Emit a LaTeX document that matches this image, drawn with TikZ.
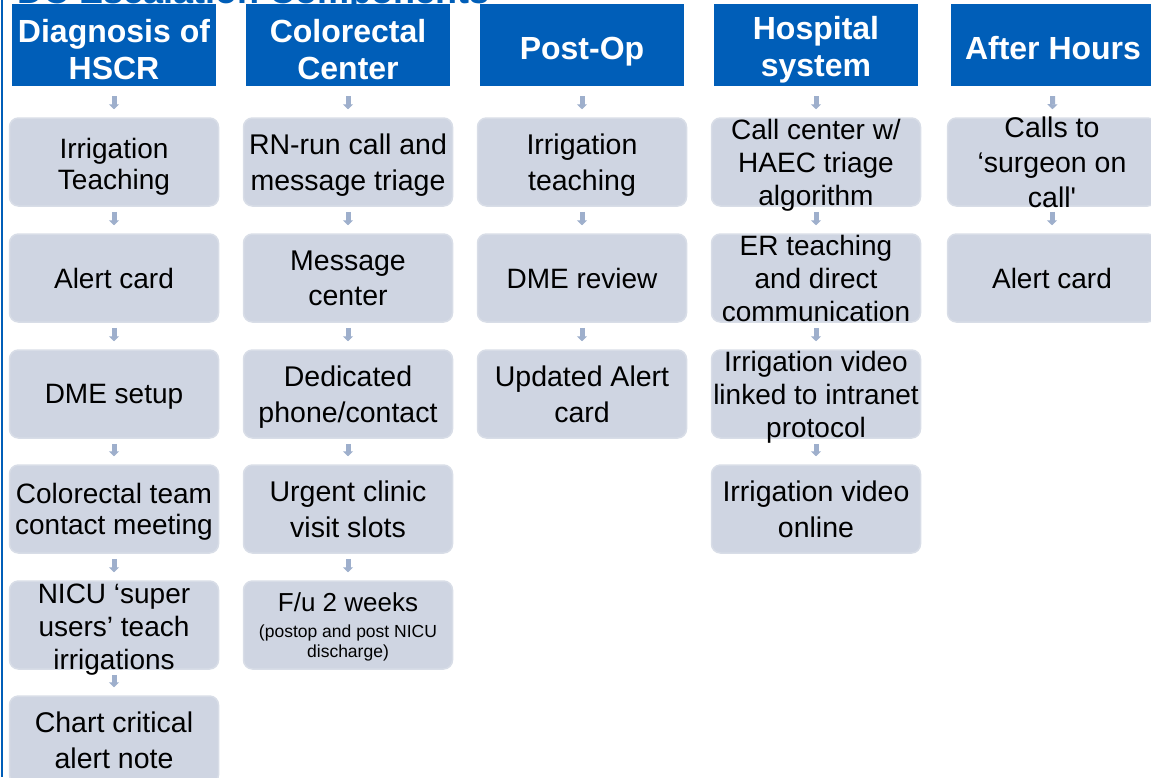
\documentclass[tikz,border=0pt]{standalone}
\usepackage{fontspec}
\setmainfont{Liberation Sans}
\usetikzlibrary{arrows.meta}

\definecolor{headblue}{RGB}{0,94,184}
\definecolor{cellgray}{RGB}{207,213,226}
\definecolor{celledge}{RGB}{216,221,231}
\definecolor{flowgray}{RGB}{158,175,204}

% A blue header box with its text on top
\newcommand{\headbox}[5]{%
	\node [head] (#1) at (#2, #3) {};
	\node [headtext] (#1-text) at ([yshift = -#4 pt] #1) {#5};
}

% A grey step box with its text on top
\newcommand{\cellbox}[5][]{%
	\node [cell] (#2) at (#3, #4) {};
	\node [celltext, #1] (#2-text) at (#2) {#5};
}
\newcommand{\notefont}{\fontsize{17.5}{20}\selectfont}

\begin{document}
\begin{tikzpicture}[x = 1pt, y = -1pt,
	head/.style = {fill = headblue, minimum width = 204pt, minimum height = 82pt, inner sep = 0pt},
	headtext/.style = {text = white, font = \bfseries\fontsize{32}{37}\selectfont, align = center, inner sep = 0pt},
	cell/.style = {fill = cellgray, draw = celledge, line width = 1.5pt, rounded corners = 9pt, minimum width = 209pt, minimum height = 88pt, inner sep = 0pt},
	celltext/.style = {font = \fontsize{28}{33}\selectfont, align = center, inner sep = 0pt, text depth = 0pt},
	loose/.style = {font = \fontsize{28.5}{35.5}\selectfont},
	tight/.style = {font = \fontsize{28}{31}\selectfont},
	flow/.style = {flowgray, line width = 5pt, -{Triangle[width = 10pt, length = 5pt]}, shorten <= 5pt, shorten >= 8pt},
	headflow/.style = {flow, shorten <= 10pt, shorten >= 8pt}]

\useasboundingbox (0, 0) rectangle (1151, 777);
\clip (0, 0) rectangle (1151, 777);

% Title, cut off at the top

\node [anchor = base west, text = headblue, font = \bfseries\fontsize{36}{40}\selectfont, inner sep = 0pt] (title) at (17, 3.5) {DC Escalation Components};

% Frame line on the left

\draw [headblue, line width = 2.5pt] (2, 0) -- (2, 777);

% Column headers

\headbox{diag}{114}{45}{4.5}{Diagnosis of\\HSCR}
\headbox{crc}{348}{45}{4.5}{Colorectal\\Center}
\headbox{postop}{582}{45}{7}{Post-Op}
\headbox{hosp}{816}{45}{4.5}{Hospital\\system}
\headbox{after}{1053}{45}{3}{After Hours}

% Diagnosis of HSCR

\cellbox[tight, yshift = -2pt]{diag-1}{114}{162}{Irrigation\\Teaching}
\cellbox{diag-2}{114}{278}{Alert card}
\cellbox{diag-3}{114}{394}{DME setup}
\cellbox[tight]{diag-4}{114}{509}{Colorectal team\\contact meeting}
\cellbox[yshift = -2pt]{diag-5}{114}{625}{NICU ‘super\\users’ teach\\irrigations}
\cellbox[loose]{diag-6}{114}{740}{Chart critical\\alert note}

% Colorectal Center

\cellbox[loose]{crc-1}{348}{162}{RN-run call and\\message triage}
\cellbox[loose]{crc-2}{348}{278}{Message\\center}
\cellbox[loose]{crc-3}{348}{394}{Dedicated\\phone/contact}
\cellbox[loose]{crc-4}{348}{509}{Urgent clinic\\visit slots}
\cellbox[font = \fontsize{26}{33}\selectfont]{crc-5}{348}{625}{F/u 2 weeks\\[-7pt]\notefont (postop and post NICU\\[-13pt]\notefont discharge)}

% Post-Op

\cellbox[loose]{postop-1}{582}{162}{Irrigation\\teaching}
\cellbox{postop-2}{582}{278}{DME review}
\cellbox[loose]{postop-3}{582}{394}{Updated Alert\\card}

% Hospital system

\cellbox{hosp-1}{816}{162}{Call center w/\\HAEC triage\\algorithm}
\cellbox{hosp-2}{816}{278}{ER teaching\\and direct\\communication}
\cellbox{hosp-3}{816}{394}{Irrigation video\\linked to intranet\\protocol}
\cellbox[loose]{hosp-4}{816}{509}{Irrigation video\\online}

% After Hours

\cellbox[font = \fontsize{28.5}{35}\selectfont]{after-1}{1052}{162}{Calls to\\‘surgeon on\\call\textquotesingle}
\cellbox{after-2}{1052}{278}{Alert card}

% Arrows down each column

\draw [headflow] (diag) -- (diag-1);
\draw [flow] (diag-1) -- (diag-2);
\draw [flow] (diag-2) -- (diag-3);
\draw [flow] (diag-3) -- (diag-4);
\draw [flow] (diag-4) -- (diag-5);
\draw [flow] (diag-5) -- (diag-6);

\draw [headflow] (crc) -- (crc-1);
\draw [flow] (crc-1) -- (crc-2);
\draw [flow] (crc-2) -- (crc-3);
\draw [flow] (crc-3) -- (crc-4);
\draw [flow] (crc-4) -- (crc-5);

\draw [headflow] (postop) -- (postop-1);
\draw [flow] (postop-1) -- (postop-2);
\draw [flow] (postop-2) -- (postop-3);

\draw [headflow] (hosp) -- (hosp-1);
\draw [flow] (hosp-1) -- (hosp-2);
\draw [flow] (hosp-2) -- (hosp-3);
\draw [flow] (hosp-3) -- (hosp-4);

\draw [headflow] (after) -- (after-1);
\draw [flow] (after-1) -- (after-2);

\end{tikzpicture}
\end{document}
